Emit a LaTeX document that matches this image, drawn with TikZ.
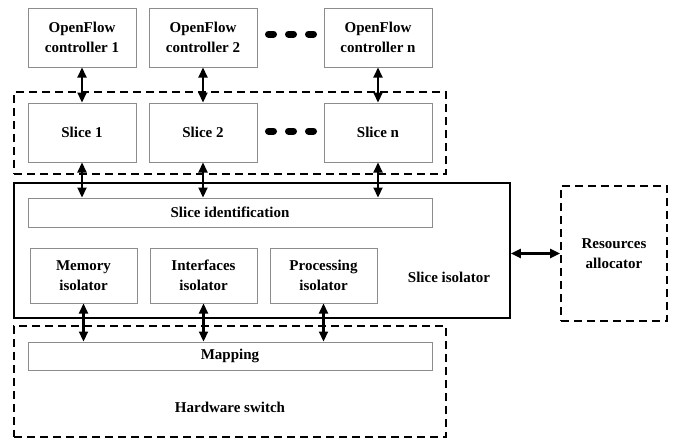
\documentclass[tikz,border=0pt]{standalone}
\usepackage{fontspec}
\setmainfont{Liberation Serif}
\usetikzlibrary{arrows.meta}
\begin{document}
\begin{tikzpicture}[x=1pt,y=-1pt,
  every node/.style={font=\fontsize{15}{20}\selectfont\bfseries, align=center, inner sep=0pt},
  gbox/.style={draw=black!45, line width=1pt},
  dbox/.style={draw=black, line width=1.8pt, dash pattern=on 8pt off 5pt},
  sbox/.style={draw=black, line width=1.8pt},
  arr/.style={line width=2.2pt, {Triangle[length=10pt,width=9pt]}-{Triangle[length=10pt,width=9pt]}},
  dots/.style={line width=7pt, dash pattern=on 5pt off 15pt, line cap=round}]
\useasboundingbox (0,0) rectangle (678,440);
% controllers
\node[gbox, minimum width=108pt, minimum height=59pt] (c1) at (82,37.5) {OpenFlow\\controller 1};
\node[gbox, minimum width=108pt, minimum height=59pt] (c2) at (203,37.5) {OpenFlow\\controller 2};
\node[gbox, minimum width=108pt, minimum height=59pt] (cn) at (378,37.5) {OpenFlow\\controller n};
\draw[dots] (268.5,34) -- (313.5,34);
% slices
\node[dbox, minimum width=432pt, minimum height=82pt] (sl) at (230,133) {};
\node[gbox, minimum width=108pt, minimum height=59pt] (s1) at (82,132.5) {Slice 1};
\node[gbox, minimum width=108pt, minimum height=59pt] (s2) at (203,132.5) {Slice 2};
\node[gbox, minimum width=108pt, minimum height=59pt] (sn) at (378,132.5) {Slice n};
\draw[dots] (268.5,131) -- (313.5,131);
% slice isolator
\node[sbox, minimum width=496pt, minimum height=135pt] (iso) at (262,250.5) {};
\node[gbox, minimum width=404pt, minimum height=29pt] (sid) at (230,212.5) {Slice identification};
\node[gbox, minimum width=107pt, minimum height=55pt] (mem) at (83.5,275.5) {Memory\\isolator};
\node[gbox, minimum width=107pt, minimum height=55pt] (itf) at (203.5,275.5) {Interfaces\\isolator};
\node[gbox, minimum width=107pt, minimum height=55pt] (prc) at (323.5,275.5) {Processing\\isolator};
\node (isolbl) at (449,277) {Slice isolator};
% resources allocator
\node[dbox, minimum width=106pt, minimum height=135pt] (res) at (614,253.5) {Resources\\allocator};
% hardware switch
\node[dbox, minimum width=432pt, minimum height=111pt] (hw) at (230,381.5) {};
\node[gbox, minimum width=404pt, minimum height=28pt] (map) at (230,356) {Mapping};
\node (hwlbl) at (230,407) {Hardware switch};
% arrows
\draw[arr] (c1.south) -- (s1.north);
\draw[arr] (c2.south) -- (s2.north);
\draw[arr] (cn.south) -- (sn.north);
\draw[arr] (s1.south) -- (s1.south |- sid.north);
\draw[arr] (s2.south) -- (s2.south |- sid.north);
\draw[arr] (sn.south) -- (sn.south |- sid.north);
\draw[arr] (mem.south) -- (mem.south |- map.north);
\draw[arr] (itf.south) -- (itf.south |- map.north);
\draw[arr] (prc.south) -- (prc.south |- map.north);
\draw[arr] (iso.east |- res.west) -- (res.west);
\end{tikzpicture}
\end{document}
